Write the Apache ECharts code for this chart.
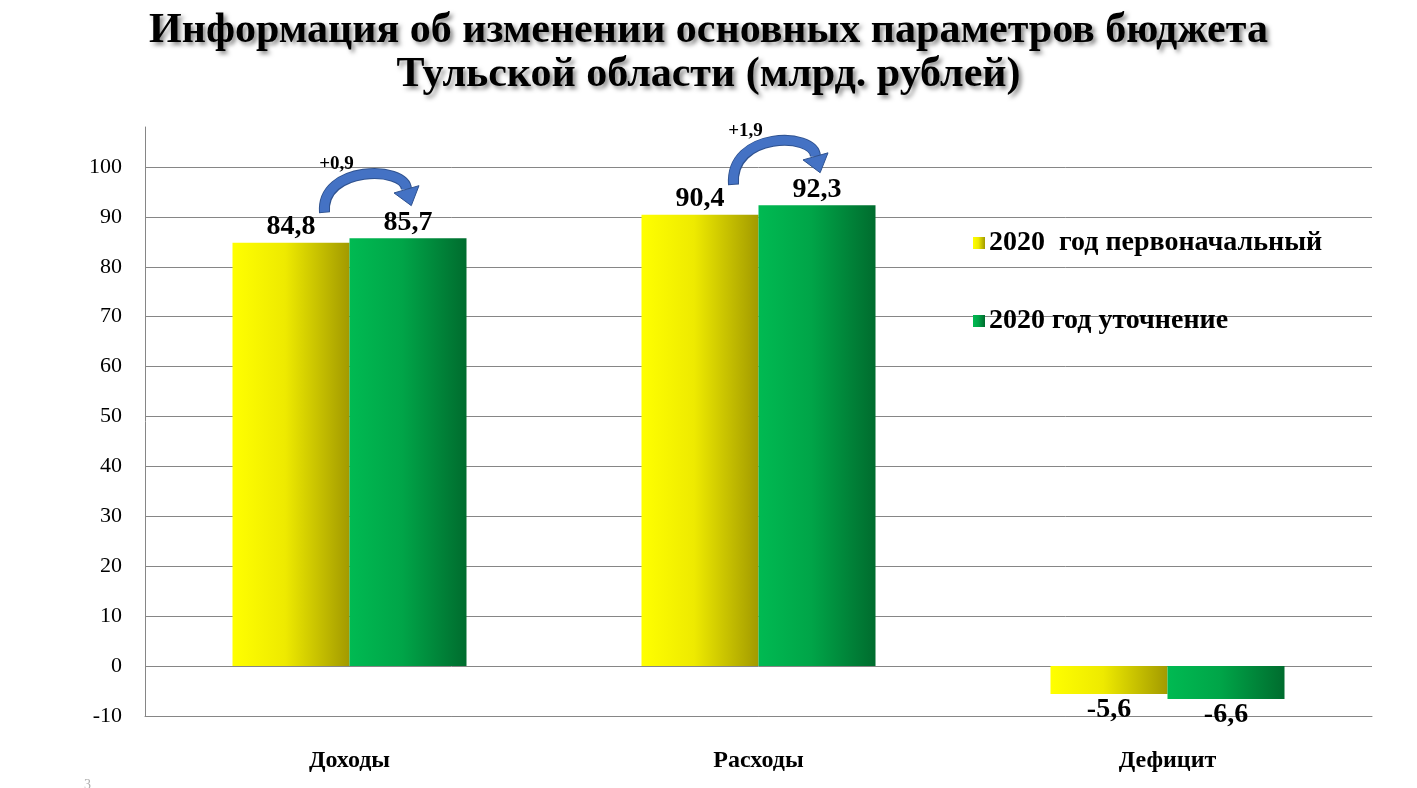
<!DOCTYPE html>
<html>
<head>
<meta charset="utf-8">
<script src="https://cdn.jsdelivr.net/npm/echarts@6/dist/echarts.min.js"></script>
<style>
html,body{margin:0;padding:0;background:#fff;}
#chart{width:1417px;height:788px;}
</style>
</head>
<body>
<div id="chart"></div>
<script>
// ---- data ----
var categories = ['Доходы', 'Расходы', 'Дефицит'];
var seriesNames = ['2020  год первоначальный', '2020 год уточнение'];
var initial2020 = [84.8, 90.4, -5.6];
var revised2020 = [85.7, 92.3, -6.6];
var changeLabels = ['+0,9', '+1,9'];   // annotated arrows for first two categories
var yTicks = [-10, 0, 10, 20, 30, 40, 50, 60, 70, 80, 90, 100];

function fmt(v) { return String(v.toFixed(1)).replace('.', ','); }

var FONT = '"Liberation Serif", "Times New Roman", serif';
var GRID = '#868686';

var yellowGrad = new echarts.graphic.LinearGradient(0, 0, 1, 0, [
  {offset: 0, color: '#FFFF00'}, {offset: 0.45, color: '#EEEA00'}, {offset: 1, color: '#A29A00'}
]);
var greenGrad = new echarts.graphic.LinearGradient(0, 0, 1, 0, [
  {offset: 0, color: '#00BA52'}, {offset: 0.45, color: '#00A548'}, {offset: 1, color: '#006C2E'}
]);

var arrowData = changeLabels.map(function (lbl, i) {
  return [i, initial2020[i], revised2020[i], lbl];
});

function barLabel(pos) {
  return {
    show: true, position: pos, distance: 2,
    fontFamily: FONT, fontWeight: 'bold', fontSize: 28, color: '#000',
    formatter: function (p) { return fmt(p.value); }
  };
}
function withNegLabels(arr) {
  return arr.map(function (v) { return v < 0 ? {value: v, label: {position: 'bottom'}} : v; });
}

var chart = echarts.init(document.getElementById('chart'));
chart.setOption({
  animation: false,
  backgroundColor: '#fff',
  title: {
    text: 'Информация об изменении основных параметров бюджета\nТульской области (млрд. рублей)',
    left: 'center',
    top: 4,
    textStyle: {
      fontFamily: FONT, fontWeight: 'bold', fontSize: 42, lineHeight: 44, color: '#000',
      textShadowColor: 'rgba(0,0,0,0.45)', textShadowBlur: 4, textShadowOffsetX: 3, textShadowOffsetY: 3
    }
  },
  graphic: [{
    type: 'text', left: 84, top: 778,
    style: {text: '3', font: '14px ' + FONT, fill: '#b0b0b0'}
  }],
  legend: {
    orient: 'vertical',
    left: 968,
    top: 224,
    itemGap: 50,
    itemWidth: 12,
    itemHeight: 12,
    icon: 'rect',
    data: seriesNames,
    textStyle: {fontFamily: FONT, fontWeight: 'bold', fontSize: 28, color: '#000', padding: [0, 0, 0, -1]}
  },
  grid: {left: 145, right: 45, top: 127, bottom: 72, containLabel: false},
  xAxis: {
    type: 'category',
    data: categories,
    axisLine: {onZero: false, lineStyle: {color: GRID}},
    axisTick: {show: false},
    axisLabel: {fontFamily: FONT, fontWeight: 'bold', fontSize: 24, color: '#000', margin: 33}
  },
  yAxis: {
    type: 'value',
    min: -10,
    max: 108,
    interval: 10,
    axisLine: {show: true, lineStyle: {color: GRID}},
    axisTick: {show: false},
    axisLabel: {
      fontFamily: FONT, fontSize: 22, color: '#000', margin: 23, showMaxLabel: false,
      formatter: function (v) { return yTicks.indexOf(v) >= 0 ? String(v) : ''; }
    },
    splitLine: {
      lineStyle: {
        color: [GRID, GRID, GRID, GRID, GRID, GRID, GRID, GRID, GRID, GRID, GRID, GRID, 'rgba(0,0,0,0)']
      }
    }
  },
  series: [
    {
      name: seriesNames[0],
      type: 'bar',
      data: withNegLabels(initial2020),
      barWidth: 117,
      barGap: '0%',
      itemStyle: {color: yellowGrad},
      label: barLabel('top')
    },
    {
      name: seriesNames[1],
      type: 'bar',
      data: withNegLabels(revised2020),
      barWidth: 117,
      barGap: '0%',
      itemStyle: {color: greenGrad},
      label: barLabel('top')
    },
    {
      type: 'custom',
      data: arrowData,
      silent: true,
      z: 10,
      renderItem: function (params, api) {
        var c = api.value(0);
        var p1 = api.coord([c, api.value(1)]);
        var p2 = api.coord([c, api.value(2)]);
        var cx = p1[0];
        var sx = cx - 25, sy = p1[1] - 30;
        var tipX = cx + 66, tipY = p2[1] - 35;
        var ex = tipX - 9, ey = tipY - 14;
        var peak = Math.min(sy, ey) - 15;
        var C = (peak - 0.125 * (sy + ey)) / 0.75;
        var cp1 = [sx - 4, C], cp2 = [ex - 1, C];
        var dx = ex - cp2[0] + 6, dy = ey - cp2[1];
        var len = Math.sqrt(dx * dx + dy * dy);
        dx /= len; dy /= len;
        var nx = -dy, ny = dx;
        var hx = ex + dx * 17, hy = ey + dy * 17;
        return {
          type: 'group',
          children: [
            {
              type: 'bezierCurve',
              shape: {x1: sx, y1: sy, cpx1: cp1[0], cpy1: cp1[1], cpx2: cp2[0], cpy2: cp2[1], x2: ex, y2: ey},
              style: {stroke: '#2F528F', lineWidth: 11, fill: null}
            },
            {
              type: 'bezierCurve',
              shape: {x1: sx, y1: sy - 1, cpx1: cp1[0], cpy1: cp1[1], cpx2: cp2[0], cpy2: cp2[1], x2: ex, y2: ey},
              style: {stroke: '#4472C4', lineWidth: 9, fill: null}
            },
            {
              type: 'polygon',
              shape: {points: [[ex + nx * 13, ey + ny * 13], [ex - nx * 13, ey - ny * 13], [hx, hy]]},
              style: {fill: '#4472C4', stroke: '#2F528F', lineWidth: 1}
            },
            {
              type: 'text',
              style: {
                text: api.value(3),
                x: sx + 12, y: peak - 1,
                align: 'center', verticalAlign: 'bottom',
                font: 'bold 19px ' + FONT, fill: '#000'
              }
            }
          ]
        };
      }
    }
  ]
});
</script>
</body>
</html>
